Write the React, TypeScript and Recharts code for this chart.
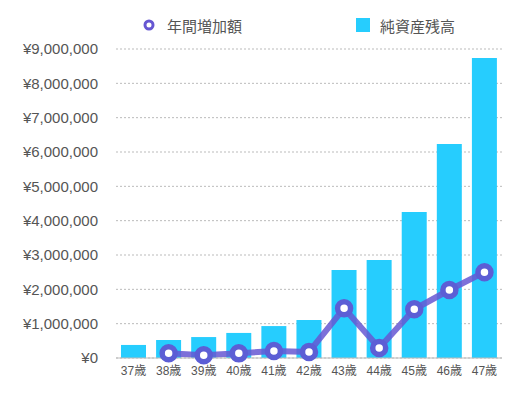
import React from 'react';
import { ComposedChart, Bar, Line, XAxis, YAxis, CartesianGrid, Legend } from 'recharts';

const ages = ['37歳', '38歳', '39歳', '40歳', '41歳', '42歳', '43歳', '44歳', '45歳', '46歳', '47歳'];
const netAssets = [380000, 525000, 610000, 730000, 930000, 1105000, 2560000, 2855000, 4250000, 6230000, 8740000];
const yearlyIncrease = [null, 140000, 80000, 135000, 205000, 175000, 1450000, 290000, 1420000, 1980000, 2500000];
const yTicks = [0, 1000000, 2000000, 3000000, 4000000, 5000000, 6000000, 7000000, 8000000, 9000000];

const data = ages.map((age, i) => ({
  age,
  netAssets: netAssets[i],
  yearlyIncrease: yearlyIncrease[i],
}));

const font = '"Liberation Sans", "Noto Sans CJK JP", sans-serif';
const barColor = '#26CDFE';
const lineColor = '#6657d2';

const yen = (v: number) => '¥' + v.toLocaleString('en-US');

function LegendContent() {
  return (
    <div style={{ display: 'flex', alignItems: 'center', height: 30, paddingLeft: 143, fontFamily: font, fontSize: 15, color: '#555' }}>
      <svg width={12} height={12} style={{ marginRight: 12 }}>
        <circle cx={6} cy={6} r={4} fill="#fff" stroke={lineColor} strokeWidth={3} />
      </svg>
      <span style={{ width: 189 }}>年間増加額</span>
      <svg width={14} height={14} style={{ marginRight: 10 }}>
        <rect width={14} height={14} fill={barColor} />
      </svg>
      <span>純資産残高</span>
    </div>
  );
}

export default function App() {
  return (
    <div style={{ position: 'absolute', left: 0, top: 0 }}>
      <ComposedChart width={518} height={394} data={data} margin={{ top: 19, right: 16, bottom: 6, left: 0 }}>
        <Legend verticalAlign="top" align="left" content={<LegendContent />} wrapperStyle={{ top: 10, left: 0, width: 518 }} />
        <CartesianGrid vertical={false} stroke="#bbb" strokeDasharray="2 2" />
        <XAxis
          dataKey="age"
          tickLine={false}
          stroke="#bbb"
          tick={{ fill: '#555', fontSize: 12, fontFamily: font }}
          interval={0}
        />
        <YAxis
          width={116}
          domain={[0, 9000000]}
          ticks={yTicks}
          tickFormatter={yen}
          axisLine={false}
          tickLine={false}
          tickMargin={12}
          tick={{ fill: '#555', fontSize: 15, fontFamily: font }}
        />
        <Bar dataKey="netAssets" name="純資産残高" fill={barColor} barSize={25} isAnimationActive={false} />
        <Line
          dataKey="yearlyIncrease"
          name="年間増加額"
          stroke={lineColor}
          strokeOpacity={0.85}
          strokeWidth={6}
          dot={{ r: 6.5, fill: '#fff', stroke: '#5c5ed5', strokeWidth: 5.5, strokeOpacity: 1 }}
          activeDot={false}
          isAnimationActive={false}
        />
      </ComposedChart>
    </div>
  );
}
